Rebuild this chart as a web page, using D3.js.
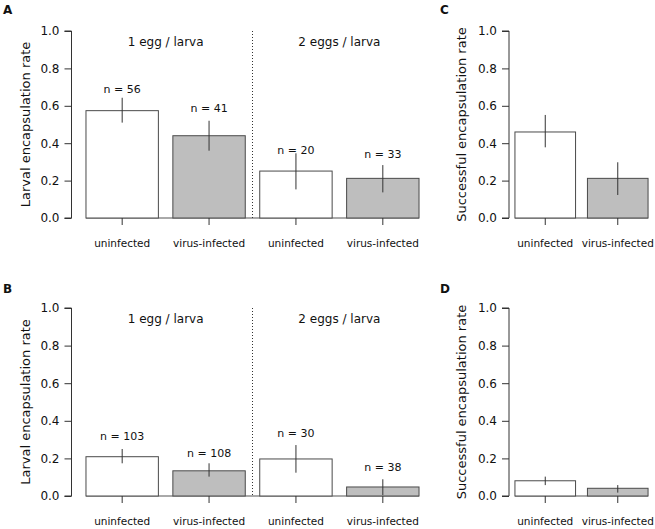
<!DOCTYPE html>
<html><head><meta charset="utf-8">
<script src="https://cdn.jsdelivr.net/npm/d3@7"></script>
<style>
body{margin:0;background:#fff;}
text{font-family:"DejaVu Sans",sans-serif;fill:#111;}
</style></head>
<body><svg id="c" width="655" height="529"></svg>
<script>
// ---- data ----
const groupLabels = ["1 egg / larva", "2 eggs / larva"];
const categoriesLeft = ["uninfected", "virus-infected", "uninfected", "virus-infected"];
const categoriesRight = ["uninfected", "virus-infected"];
const yTicks = [0, 0.2, 0.4, 0.6, 0.8, 1.0];

const aRate = [0.574, 0.440, 0.251, 0.212];
const aLow  = [0.510, 0.360, 0.153, 0.137];
const aHigh = [0.643, 0.520, 0.346, 0.283];
const aN    = [56, 41, 20, 33];
const aNLabelAt = [0.671, 0.567, 0.342, 0.321];

const bRate = [0.209, 0.134, 0.197, 0.048];
const bLow  = [0.174, 0.103, 0.124, 0.005];
const bHigh = [0.250, 0.174, 0.271, 0.089];
const bN    = [103, 108, 30, 38];
const bNLabelAt = [0.298, 0.209, 0.315, 0.135];

const cRate = [0.460, 0.212];
const cLow  = [0.378, 0.123];
const cHigh = [0.551, 0.298];

const dRate = [0.081, 0.041];
const dLow  = [0.058, 0.018];
const dHigh = [0.103, 0.058];

const fills = ["#ffffff", "#bebebe"];

const svg = d3.select("#c");

function panel(opt) {
  const g = svg.append("g");
  const y = d3.scaleLinear().domain([0, 1]).range([opt.y0, opt.y1]);
  const x = d3.scaleBand().domain(d3.range(opt.cats.length))
    .range([opt.xl, opt.xr]).paddingInner(opt.pin).paddingOuter(opt.pout);

  // y axis
  const ax = g.append("g").attr("transform", `translate(${opt.xl},0)`)
    .call(d3.axisLeft(y).tickValues(yTicks).tickFormat(d3.format(".1f")).tickSize(7).tickPadding(5));
  ax.select(".domain").attr("stroke", "#333").attr("d", `M-7,${y(1)}H0V${y(0)}H-7`);
  ax.selectAll(".tick line").attr("stroke", "#333");
  ax.selectAll(".tick text").style("font-size", "12px").attr("fill", "#111").style("font-family", '"DejaVu Sans",sans-serif');

  // y title
  g.append("text")
    .attr("transform", `translate(${opt.titleX},${(y(0) + y(1)) / 2}) rotate(-90)`)
    .attr("text-anchor", "middle").style("font-size", "13px").text(opt.yTitle);

  // baseline
  g.append("line").attr("x1", x(0)).attr("x2", x(opt.cats.length - 1) + x.bandwidth())
    .attr("y1", y(0)).attr("y2", y(0)).attr("stroke", "#555").attr("stroke-width", 1);

  // bars
  opt.rate.forEach((v, i) => {
    g.append("rect").attr("x", x(i)).attr("y", y(v)).attr("width", x.bandwidth())
      .attr("height", y(0) - y(v)).attr("fill", fills[i % 2])
      .attr("stroke", "#4a4a4a").attr("stroke-width", 1);
    const cx = x(i) + x.bandwidth() / 2;
    g.append("line").attr("x1", cx).attr("x2", cx).attr("y1", y(opt.high[i])).attr("y2", y(opt.low[i]))
      .attr("stroke", "#333").attr("stroke-width", 1);
    g.append("line").attr("x1", cx).attr("x2", cx).attr("y1", y(0)).attr("y2", y(0) + 7)
      .attr("stroke", "#333").attr("stroke-width", 1);
    g.append("text").attr("x", cx).attr("y", y(0) + 29).attr("text-anchor", "middle")
      .style("font-size", "10.5px").text(opt.cats[i]);
    if (opt.n) {
      g.append("text").attr("x", cx).attr("y", y(opt.nAt[i])).attr("text-anchor", "middle")
        .style("font-size", "11px").text("n = " + opt.n[i]);
    }
  });

  if (opt.groups) {
    const mid = (x(1) + x.bandwidth() + x(2)) / 2;
    g.append("line").attr("x1", mid).attr("x2", mid).attr("y1", y(1)).attr("y2", y(0))
      .attr("stroke", "#333").attr("stroke-dasharray", "1,2").attr("stroke-width", 1);
    opt.groups.forEach((lab, k) => {
      const cx = (x(2 * k) + x(2 * k + 1) + x.bandwidth()) / 2;
      g.append("text").attr("x", cx).attr("y", y(1) + 15).attr("text-anchor", "middle")
        .style("font-size", "12px").text(lab);
    });
  }

  g.append("text").attr("x", opt.tagX).attr("y", opt.tagY).style("font-size", "12px")
    .style("font-weight", "bold").text(opt.tag);
}

panel({tag: "A", tagX: 3, tagY: 14, y0: 218, y1: 31, xl: 71.5, xr: 433.5, pin: 1/6, pout: 1/6,
  cats: categoriesLeft, rate: aRate, low: aLow, high: aHigh, n: aN, nAt: aNLabelAt,
  groups: groupLabels, yTitle: "Larval encapsulation rate", titleX: 30});
panel({tag: "B", tagX: 3, tagY: 293, y0: 496, y1: 308, xl: 71.5, xr: 433.5, pin: 1/6, pout: 1/6,
  cats: categoriesLeft, rate: bRate, low: bLow, high: bHigh, n: bN, nAt: bNLabelAt,
  groups: groupLabels, yTitle: "Larval encapsulation rate", titleX: 30});
panel({tag: "C", tagX: 440, tagY: 14, y0: 218, y1: 31, xl: 509, xr: 654, pin: 0.164, pout: 0.082,
  cats: categoriesRight, rate: cRate, low: cLow, high: cHigh,
  yTitle: "Successful encapsulation rate", titleX: 466});
panel({tag: "D", tagX: 440, tagY: 293, y0: 496, y1: 308, xl: 509, xr: 654, pin: 0.164, pout: 0.082,
  cats: categoriesRight, rate: dRate, low: dLow, high: dHigh,
  yTitle: "Successful encapsulation rate", titleX: 466});
</script></body></html>
